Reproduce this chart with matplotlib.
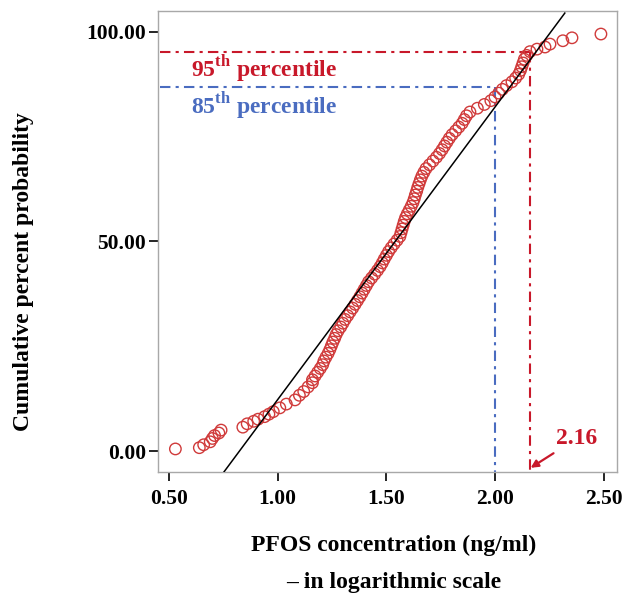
import numpy as np
import matplotlib
matplotlib.use("Agg")
import matplotlib.pyplot as plt
from matplotlib.ticker import FormatStrFormatter

plt.rcParams["font.family"] = "Liberation Serif"
plt.rcParams["font.weight"] = "bold"
plt.rcParams["mathtext.fontset"] = "custom"
plt.rcParams["mathtext.rm"] = "Liberation Serif:bold"
plt.rcParams["mathtext.bf"] = "Liberation Serif:bold"

# log10 PFOS concentration and cumulative percent
log_conc = [0.53, 0.64, 0.66, 0.69, 0.70, 0.71, 0.73, 0.74, 0.84, 0.86, 0.89,
            0.91, 0.94, 0.96, 0.98, 1.01, 1.04, 1.08, 1.10, 1.12, 1.14, 1.16,
            1.160, 1.172, 1.184, 1.196, 1.207, 1.213, 1.222, 1.232, 1.240, 1.247,
            1.254, 1.262, 1.269, 1.278, 1.290, 1.300, 1.310, 1.322, 1.333, 1.345,
            1.356, 1.367, 1.378, 1.388, 1.398, 1.408, 1.418, 1.432, 1.446, 1.459,
            1.471, 1.481, 1.490, 1.500, 1.510, 1.522, 1.535, 1.549, 1.562, 1.567,
            1.572, 1.577, 1.582, 1.588, 1.596, 1.605, 1.614, 1.622, 1.628, 1.633,
            1.639, 1.644, 1.650, 1.656, 1.663, 1.672, 1.682, 1.698, 1.714, 1.730,
            1.744, 1.756, 1.767, 1.778, 1.789, 1.802, 1.818, 1.833, 1.848, 1.858,
            1.868, 1.884, 1.918, 1.950, 1.980, 1.999, 2.016, 2.033, 2.052, 2.077,
            2.094, 2.108, 2.116, 2.122, 2.128, 2.134, 2.145, 2.160, 2.192, 2.229,
            2.252, 2.311, 2.353, 2.486]
cum_pct = [0.5, 0.8, 1.5, 2.2, 3.0, 3.7, 4.3, 5.0, 5.7, 6.5, 7.1,
           7.6, 8.2, 8.8, 9.4, 10.3, 11.2, 12.2, 13.3, 14.2, 15.3, 16.3,
           17.0, 17.9, 18.8, 19.7, 20.6, 21.5, 22.4, 23.3, 24.2, 25.1,
           26.0, 26.9, 27.8, 28.7, 29.6, 30.5, 31.4, 32.3, 33.2, 34.1,
           35.0, 35.9, 36.8, 37.7, 38.6, 39.5, 40.4, 41.3, 42.2, 43.1,
           44.0, 44.9, 45.8, 46.7, 47.6, 48.5, 49.4, 50.3, 51.2, 52.1,
           53.0, 53.9, 54.8, 55.7, 56.6, 57.5, 58.4, 59.3, 60.2, 61.1,
           62.0, 62.9, 63.8, 64.7, 65.6, 66.5, 67.4, 68.3, 69.2, 70.1,
           71.0, 71.9, 72.8, 73.7, 74.6, 75.5, 76.4, 77.3, 78.2, 79.1,
           80.0, 80.9, 81.8, 82.7, 83.6, 84.5, 85.4, 86.3, 87.2, 88.1,
           89.0, 89.9, 90.8, 91.7, 92.6, 93.5, 94.4, 95.3, 95.9, 96.4,
           97.1, 97.9, 98.6, 99.5]

# reference (normal fit) line end points
fit_x = [0.753, 2.32]
fit_y = [-5.0, 104.5]

p95_y, p95_x = 95.2, 2.16
p85_y, p85_x = 86.8, 2.00

red = "#c8182a"
blue = "#4a6cc0"

fig = plt.figure(figsize=(6.22, 5.94), dpi=100)
ax = fig.add_axes([0.254, 0.2054, 0.738, 0.7761])

ax.scatter(log_conc, cum_pct, s=68, facecolors="none", edgecolors="#d03a3a",
           linewidths=1.0, zorder=3)
ax.plot(fit_x, fit_y, color="black", linewidth=1.1, zorder=4)

dash = (0, (5, 2.5, 1.5, 2.5))
ax.plot([0.46, p95_x], [p95_y, p95_y], color=red, lw=1.5, linestyle=dash, zorder=2)
ax.plot([p95_x, p95_x], [p95_y, -4.8], color=red, lw=1.5, linestyle=dash, zorder=2)
ax.plot([0.46, p85_x], [p85_y, p85_y], color=blue, lw=1.5, linestyle=dash, zorder=2)
ax.plot([p85_x, p85_x], [p85_y, -5], color=blue, lw=1.5, linestyle=dash, zorder=2)

ax.text(0.60, 91.0, r"95$^{\mathrm{th}}$ percentile", color=red, fontsize=17,
        fontweight="bold", va="center", ha="left")
ax.text(0.60, 82.4, r"85$^{\mathrm{th}}$ percentile", color=blue, fontsize=17,
        fontweight="bold", va="center", ha="left")

ax.annotate("2.16", xy=(2.163, -4.0), xytext=(2.28, 3.0), color=red,
            fontsize=17, fontweight="bold", va="center", ha="left",
            arrowprops=dict(arrowstyle="-|>", color=red, lw=1.6,
                            mutation_scale=11, shrinkA=2, shrinkB=0))

ax.set_xlim(0.45, 2.56)
ax.set_ylim(-5, 105)
ax.set_xticks([0.5, 1.0, 1.5, 2.0, 2.5])
ax.set_yticks([0, 50, 100])
ax.xaxis.set_major_formatter(FormatStrFormatter("%.2f"))
ax.yaxis.set_major_formatter(FormatStrFormatter("%.2f"))
ax.tick_params(direction="out", length=6.5, width=1.2, color="black",
               labelsize=15.5)
ax.tick_params(axis="x", pad=6)
ax.tick_params(axis="y", pad=2)
for s in ax.spines.values():
    s.set_color("#a8a8a8")
    s.set_linewidth(1.0)

fig.text(0.633, 0.0825, "PFOS concentration (ng/ml)", fontsize=17,
         fontweight="bold", ha="center", va="center")
fig.text(0.633, 0.0202, "\u2013 in logarithmic scale", fontsize=17,
         fontweight="bold", ha="center", va="center")
fig.text(0.037, 0.542, "Cumulative percent probability", fontsize=17,
         fontweight="bold", ha="center", va="center", rotation=90)

fig.savefig("out.png", dpi=100)
